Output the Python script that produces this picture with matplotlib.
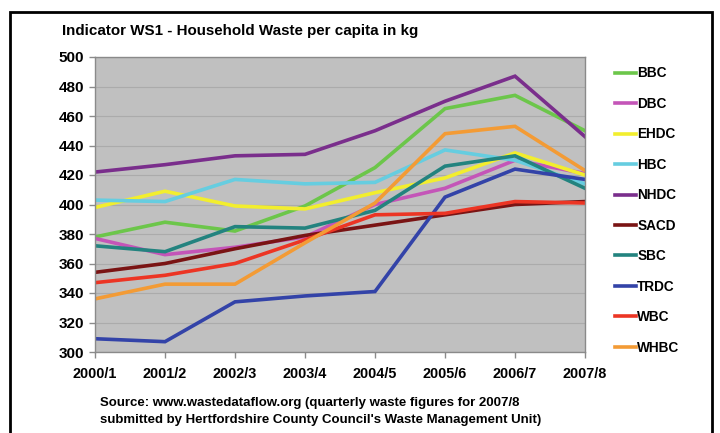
import matplotlib
matplotlib.use("Agg")
import matplotlib.pyplot as plt
from matplotlib.patches import Rectangle

plt.rcParams['font.family'] = ['Liberation Sans', 'DejaVu Sans']

years = ["2000/1", "2001/2", "2002/3", "2003/4", "2004/5", "2005/6", "2006/7", "2007/8"]

BBC  = [378, 388, 382, 399, 425, 465, 474, 450]
DBC  = [377, 366, 371, 378, 400, 411, 430, 421]
EHDC = [398, 409, 399, 397, 408, 418, 435, 420]
HBC  = [403, 402, 417, 414, 415, 437, 430, 414]
NHDC = [422, 427, 433, 434, 450, 470, 487, 446]
SACD = [354, 360, 370, 379, 386, 393, 400, 402]
SBC  = [372, 368, 385, 384, 396, 426, 433, 411]
TRDC = [309, 307, 334, 338, 341, 405, 424, 417]
WBC  = [347, 352, 360, 376, 393, 394, 402, 401]
WHBC = [336, 346, 346, 374, 401, 448, 453, 423]

series_names = ["BBC", "DBC", "EHDC", "HBC", "NHDC", "SACD", "SBC", "TRDC", "WBC", "WHBC"]
series_values = [BBC, DBC, EHDC, HBC, NHDC, SACD, SBC, TRDC, WBC, WHBC]
series_colors = ["#6cc64a", "#c455b8", "#f2ee2e", "#66cde0", "#7a2e8c",
                 "#7a1414", "#23837f", "#3343a8", "#ec3524", "#f39b35"]

yticks = [300, 320, 340, 360, 380, 400, 420, 440, 460, 480, 500]

title = "Indicator WS1 - Household Waste per capita in kg"
source = ("Source: www.wastedataflow.org (quarterly waste figures for 2007/8\n"
          "submitted by Hertfordshire County Council's Waste Management Unit)")

fig = plt.figure(figsize=(7.2, 4.33), dpi=100)
fig.patch.set_facecolor("white")
ax = fig.add_axes([95/720, 1-352/433, (585-95)/720, (352-57)/433])
ax.set_facecolor("#c0c0c0")

x = list(range(len(years)))
for name, vals, col in zip(series_names, series_values, series_colors):
    ax.plot(x, vals, color=col, lw=2.6, label=name, solid_joinstyle='miter')

ax.set_xlim(0, len(years)-1)
ax.set_ylim(300, 500)
ax.set_yticks(yticks)
ax.set_yticklabels([str(v) for v in yticks], fontsize=11, fontweight='bold')
ax.set_xticks(x)
ax.set_xticklabels(years, fontsize=10.4, fontweight='bold')
ax.grid(axis='y', color='#ababab', lw=0.8)
ax.set_axisbelow(True)
for s in ax.spines.values():
    s.set_color('#8a8a8a')
    s.set_linewidth(1.0)
ax.tick_params(axis='both', direction='out', color='#8a8a8a', length=4, width=1)
ax.tick_params(axis='x', pad=7)
ax.tick_params(axis='y', pad=4)

leg = ax.legend(loc='upper left', bbox_to_anchor=(610/720, 1-61/433),
                bbox_transform=fig.transFigure, frameon=False,
                prop={'weight': 'bold', 'size': 9.8},
                handlelength=1.5, handletextpad=0.1, labelspacing=1.21,
                borderaxespad=0)

fig.text(62/720, 1-30.5/433, title, fontsize=10.9, fontweight='bold', va='center', ha='left')
fig.text(100/720, 1-411.5/433, source, fontsize=9.5, fontweight='bold', va='center', ha='left',
         linespacing=1.45)

fig.add_artist(Rectangle((10/720, -0.05), (712-10)/720, 1.05 - 12/433 + 0.0,
                         transform=fig.transFigure, fill=False, edgecolor='black', lw=2))

fig.savefig("out.png", dpi=100)
